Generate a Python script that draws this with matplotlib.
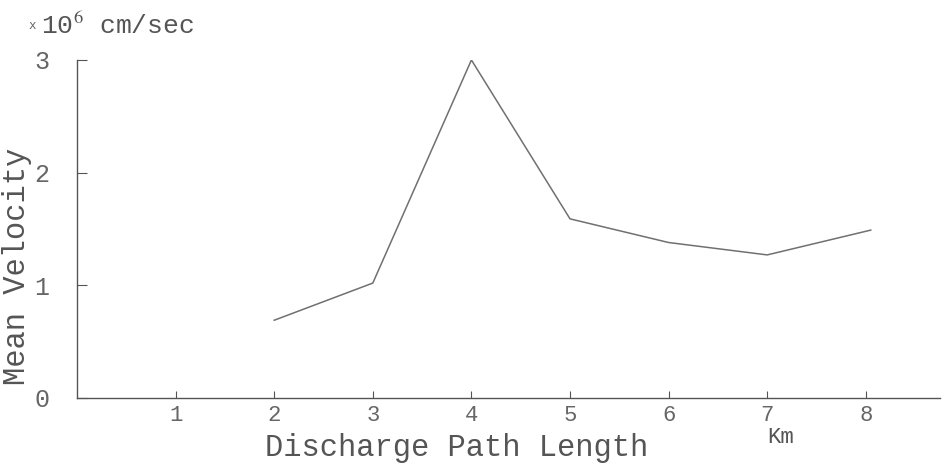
import numpy as np
import matplotlib

matplotlib.use('Agg')
import matplotlib.pyplot as plt

# Mean velocity vs discharge path length
path_km = [2, 3, 4, 5, 6, 7, 8.05]
velocity = [0.69, 1.02, 3.0, 1.59, 1.38, 1.27, 1.49]   # x10^6 cm/sec

x_ticks = [1, 2, 3, 4, 5, 6, 7, 8]
y_ticks = [0, 1, 2, 3]

MONO = 'Liberation Mono'
INK = '#555555'

fig = plt.figure(figsize=(9.46, 4.69), dpi=100)
ax = fig.add_axes([0.0814, 0.1514, 0.912, 0.7207])

ax.plot(path_km, velocity, color='#707070', lw=1.1)

ax.set_xlim(0, 8.75)
ax.set_ylim(0, 3)

ax.spines['top'].set_visible(False)
ax.spines['right'].set_visible(False)
for s in ('left', 'bottom'):
    ax.spines[s].set_color(INK)
    ax.spines[s].set_linewidth(1.0)

ax.set_xticks(x_ticks)
ax.set_yticks(y_ticks)
ax.tick_params(axis='x', direction='in', length=5, width=0.8, color=INK,
               pad=5, labelsize=16, labelcolor='#666666')
ax.tick_params(axis='y', direction='in', length=7, width=0.8, color=INK,
               pad=20, labelsize=18, labelcolor='#666666')
for lbl in ax.get_xticklabels() + ax.get_yticklabels():
    lbl.set_family(MONO)

# axis titles placed by hand, as on the typed original
ax.text(0.44, -0.148, 'Discharge Path Length', transform=ax.transAxes,
        fontsize=22, family=MONO, color=INK, ha='center', va='center')
ax.text(-0.069, 0.39, 'Mean Velocity', transform=ax.transAxes, rotation=90,
        fontsize=22, family=MONO, color=INK, ha='center', va='center')

ax.text(7.0, -0.35, 'Km', fontsize=16, family=MONO, color=INK,
        ha='left', va='center')

# unit label at the top of the y axis
fig.text(0.03, 0.945, 'x', fontsize=9, family=MONO, color='#666666', va='center')
fig.text(0.043, 0.945, '10$^{6}$ cm/sec', fontsize=19, family=MONO,
         color=INK, va='center', math_fontfamily='stix')

fig.savefig('out.png', dpi=100)
